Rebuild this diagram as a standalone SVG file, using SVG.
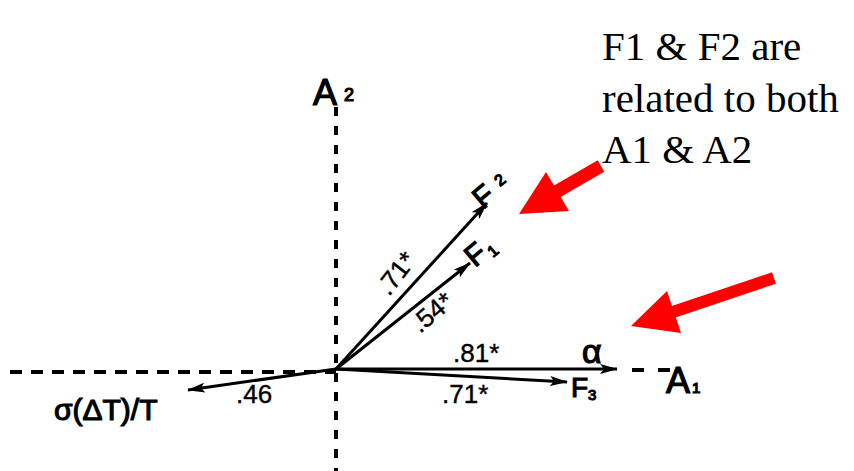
<svg xmlns="http://www.w3.org/2000/svg" width="854" height="471" viewBox="0 0 854 471">
<style>
.ax{stroke:#000;stroke-width:4;fill:none}
.vec{stroke:#000;stroke-width:3;fill:none}
.lbl{font-family:"Liberation Sans",Arial,sans-serif;fill:#000;stroke:#000;stroke-width:1.2}
.num{font-family:"Liberation Sans",Arial,sans-serif;font-size:26px;fill:#000;stroke:#000;stroke-width:0.4}
.note{font-family:"Liberation Serif","Times New Roman",serif;font-size:41px;fill:#000}
.red{fill:#ff0000}
</style>
<defs>
<marker id="ah" viewBox="0 0 18 10" refX="17" refY="5" markerWidth="18" markerHeight="10" markerUnits="userSpaceOnUse" orient="auto">
<path d="M0,0 L18,5 L0,10 L4,5 Z" fill="#000"/>
</marker>
</defs>
<rect width="854" height="471" fill="#fff"/>
<g id="axes">
<line class="ax" x1="336" y1="107" x2="336" y2="471" stroke-dasharray="9,10"/>
<line class="ax" x1="10" y1="372" x2="336" y2="372" stroke-dasharray="12,9" stroke-width="3.5"/>
<line class="ax" x1="632" y1="370" x2="670" y2="370" stroke-dasharray="12,14" stroke-width="3.5"/>
</g>
<g id="connectors">
<line class="vec" x1="336" y1="369" x2="487" y2="203" marker-end="url(#ah)"/>
<line class="vec" x1="336" y1="369" x2="470" y2="263" marker-end="url(#ah)"/>
<line class="vec" x1="336" y1="369" x2="617" y2="369" marker-end="url(#ah)"/>
<line class="vec" x1="336" y1="369" x2="567" y2="382" marker-end="url(#ah)"/>
<line class="vec" x1="336" y1="369" x2="188" y2="390" marker-end="url(#ah)"/>
</g>
<g id="A2">
<text class="lbl" x="313" y="105" font-size="36">A</text>
<text class="lbl" x="344" y="101" font-size="18">2</text>
</g>
<g id="A1">
<text class="lbl" x="666" y="393" font-size="36">A</text>
<text class="lbl" x="692" y="393" font-size="15">1</text>
</g>
<g id="F2">
<text class="lbl" x="483" y="210" font-size="30" transform="rotate(-40 483 210)">F</text>
<text class="lbl" x="500" y="187" font-size="16" transform="rotate(-40 500 187)">2</text>
</g>
<g id="F1">
<text class="lbl" x="475" y="268" font-size="30" transform="rotate(-40 475 268)">F</text>
<text class="lbl" x="493" y="258" font-size="16" transform="rotate(-40 493 258)">1</text>
</g>
<g id="alpha">
<text class="lbl" x="582" y="363" font-size="34">α</text>
</g>
<g id="F3">
<text class="lbl" x="571" y="397" font-size="28">F</text>
<text class="lbl" x="588" y="400" font-size="15">3</text>
</g>
<g id="sigma">
<text class="lbl" x="54" y="420" font-size="30" stroke-width="0.3" font-weight="normal">σ(ΔT)/T</text>
</g>
<g id="loadings">
<text class="num" x="389" y="297" transform="rotate(-52 389 297)">.71*</text>
<text class="num" x="420" y="334" transform="rotate(-40 420 334)">.54*</text>
<text class="num" x="453" y="362">.81*</text>
<text class="num" x="442" y="403">.71*</text>
<text class="num" x="236" y="403">.46</text>
</g>
<g id="note">
<text class="note" x="602" y="60">F1 &amp; F2 are</text>
<text class="note" x="602" y="112">related to both</text>
<text class="note" x="602" y="163">A1 &amp; A2</text>
</g>
<g id="redarrow1">
<line x1="601" y1="166" x2="556" y2="192" stroke="#ff0000" stroke-width="13"/>
<polygon class="red" points="519,214 546,172 569,211"/>
</g>
<g id="redarrow2">
<line x1="774" y1="278" x2="670" y2="313" stroke="#ff0000" stroke-width="12"/>
<polygon class="red" points="631,326 667,291 681,333"/>
</g>
</svg>
